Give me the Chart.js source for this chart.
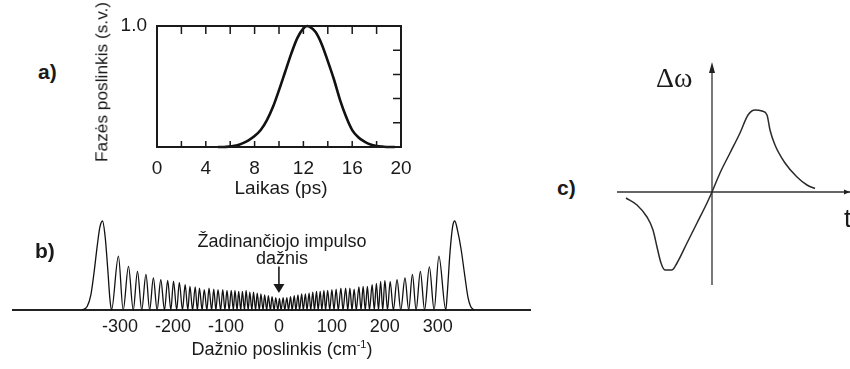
<!DOCTYPE html>
<html>
<head>
<meta charset="utf-8">
<script src="https://cdn.jsdelivr.net/npm/chart.js@4.4.1/dist/chart.umd.min.js"></script>
<style>
  html, body { margin: 0; padding: 0; background: #fff; }
  body { width: 850px; height: 369px; position: relative; overflow: hidden;
         font-family: "Liberation Sans", Arial, sans-serif; color: #1a1a1a; }
  canvas { position: absolute; }
  .lbl { position: absolute; white-space: nowrap; line-height: 1; }
  .panel { font-weight: bold; font-size: 21px; }
</style>
</head>
<body>
<canvas id="phase" width="320" height="176" style="left:110px;top:6px"></canvas>
<canvas id="spectrum" width="545" height="150" style="left:0px;top:196px"></canvas>
<canvas id="chirp" width="238" height="235" style="left:612px;top:55px"></canvas>

<div class="lbl panel" style="left:38px;top:61px">a)</div>
<div class="lbl panel" style="left:35px;top:240px">b)</div>
<div class="lbl panel" style="left:557px;top:177px">c)</div>

<div class="lbl" style="left:102px;top:82px;font-size:17.3px;transform:translate(-50%,-50%) rotate(-90deg)">Fazės poslinkis (s.v.)</div>
<div class="lbl" style="left:281px;top:178px;font-size:19px;transform:translateX(-50%)">Laikas (ps)</div>

<div class="lbl" style="left:282px;top:232px;font-size:18px;transform:translateX(-50%)">Žadinančiojo impulso</div>
<div class="lbl" style="left:282px;top:249px;font-size:18px;transform:translateX(-50%)">dažnis</div>
<div class="lbl" style="left:282px;top:339px;font-size:18px;transform:translateX(-50%)">Dažnio poslinkis (cm<sup style="font-size:11px;vertical-align:7px">-1</sup>)</div>

<div class="lbl" style="left:656px;top:64px;font-size:28px;font-family:'Liberation Serif','Times New Roman',serif">Δω</div>
<div class="lbl" style="left:844px;top:205px;font-size:26px">t</div>

<script>
// ---------- a) phase shift versus time ----------
const timePs     = [5, 5.5, 6, 6.5, 7, 7.5, 8, 8.5, 9, 9.5, 10, 10.5, 11, 11.5, 12, 12.3, 12.5, 13, 13.5, 14, 14.5, 15, 15.5, 16, 16.5, 17, 17.5, 18, 18.5, 19, 19.5];
const phaseShift = [0, 0, 0.005, 0.012, 0.03, 0.055, 0.09, 0.14, 0.22, 0.33, 0.47, 0.62, 0.77, 0.9, 0.98, 1.0, 0.995, 0.95, 0.85, 0.71, 0.56, 0.39, 0.25, 0.14, 0.08, 0.045, 0.02, 0.008, 0.003, 0, 0];
const timeTickLabels  = [0, 4, 8, 12, 16, 20];
const timeMinorTicks  = [2, 4, 6, 8, 10, 12, 14, 16, 18];
const phaseMinorTicks = [0.2, 0.4, 0.6, 0.8];
const phaseTickLabels = [1.0];

// ---------- b) spectrum: fringe maxima, minima and outer shoulders ----------
const peakShift = [-333, -303, -284, -267, -251, -237, -223, -210, -199, -188, -177, -168, -158, -150, -141, -132, -123, -115, -106, -98,
                   -90, -83, -76, -69, -62, -55, -48, -41, -34, -27, -20, -13, -6,
                   1, 8, 15, 22, 29, 36, 43, 50, 57, 64, 71, 78, 85, 92, 100, 108, 117, 126, 134, 142,
                   151, 159, 167, 176, 184, 192, 200, 210, 223, 238, 252, 267, 284, 302, 332];
const peakLevel = [1.0, 0.606, 0.49, 0.435, 0.40, 0.36, 0.34, 0.333, 0.325, 0.31, 0.285, 0.265, 0.26, 0.245, 0.23, 0.245, 0.235, 0.23, 0.23, 0.22,
                   0.22, 0.22, 0.21, 0.21, 0.22, 0.2, 0.2, 0.19, 0.18, 0.17, 0.16, 0.15, 0.14,
                   0.13, 0.14, 0.14, 0.15, 0.16, 0.17, 0.18, 0.18, 0.19, 0.2, 0.21, 0.21, 0.22, 0.22, 0.23, 0.235, 0.245, 0.245, 0.245, 0.235,
                   0.26, 0.265, 0.265, 0.285, 0.30, 0.32, 0.333, 0.32, 0.34, 0.36, 0.40, 0.435, 0.485, 0.606, 1.0];
const valleyShift = [-316, -294, -275, -259, -244, -230, -216, -204, -193, -182, -172, -163, -154, -145, -136, -127, -119, -110, -102, -94,
                     -86, -79, -72, -65, -58, -51, -44, -37, -30, -23, -16, -9, -2,
                     4, 11, 18, 25, 32, 39, 46, 53, 60, 67, 74, 81, 88, 96, 104, 112, 121, 130, 138, 146,
                     155, 163, 171, 180, 188, 196, 205, 216, 230, 245, 259, 275, 293, 315];
const flankShift = [-372, -362, -355, -349, -343, -338, -328, -323, -319,
                    318, 323, 328, 337, 344, 351, 357, 362, 368];
const flankLevel = [0, 0.04, 0.17, 0.42, 0.72, 0.93, 0.82, 0.45, 0.12,
                    0.2, 0.65, 0.94, 0.9, 0.68, 0.38, 0.14, 0.04, 0];
const shiftTickLabels = [-300, -200, -100, 0, 100, 200, 300];
const pumpMarkShift = 0;
const pumpArrowFrom = 0.49, pumpArrowTo = 0.19;

// ---------- c) instantaneous frequency shift ----------
const chirpT  = [-8.6, -7.5, -6.5, -5.9, -5.5, -5.1, -4.7, -4.0, -3.5, -2.5, -1.5, -0.5, 0, 0.8, 1.8, 2.8, 3.6, 4.3, 5.0, 5.5, 5.8, 6.3, 7.3, 8.5, 9.5, 10.3];
const chirpDw = [-0.6, -1.3, -2.5, -3.8, -5.5, -7.1, -7.8, -7.8, -7.1, -5.1, -3.1, -1.1, 0, 1.9, 3.9, 5.9, 7.7, 8.2, 8.1, 7.7, 6.2, 4.7, 2.9, 1.5, 0.7, 0.35];

const INK = '#1a1a1a';
const FONT_A = { family: "'Liberation Sans', Arial, sans-serif", size: 19 };
const FONT_B = { family: "'Liberation Sans', Arial, sans-serif", size: 18 };
const baseOpts = {
  responsive: false,
  animation: false,
  events: [],
  plugins: { legend: { display: false }, tooltip: { enabled: false } }
};
const pairs = (xs, ys) => xs.map((v, i) => ({ x: v, y: ys[i] }));

// framed box with inward tick marks
const frameTicks = {
  id: 'frameTicks',
  afterDatasetsDraw(chart) {
    const { ctx, chartArea: a, scales: { x, y } } = chart;
    ctx.save();
    ctx.strokeStyle = INK;
    ctx.lineWidth = 2;
    ctx.strokeRect(a.left, a.top, a.right - a.left, a.bottom - a.top);
    ctx.lineWidth = 1.5;
    ctx.beginPath();
    timeMinorTicks.forEach(v => {
      const px = x.getPixelForValue(v);
      ctx.moveTo(px, a.top); ctx.lineTo(px, a.top + 8);
      ctx.moveTo(px, a.bottom); ctx.lineTo(px, a.bottom - 6);
    });
    phaseMinorTicks.forEach(v => {
      const py = y.getPixelForValue(v);
      ctx.moveTo(a.right, py); ctx.lineTo(a.right - 8, py);
    });
    ctx.stroke();
    ctx.restore();
  }
};

new Chart(document.getElementById('phase'), {
  type: 'line',
  data: { datasets: [{ data: pairs(timePs, phaseShift), borderColor: '#111', borderWidth: 2.6,
                       pointRadius: 0, cubicInterpolationMode: 'monotone', fill: false, clip: false }] },
  options: {
    ...baseOpts,
    layout: { padding: { top: 20, right: 29, left: 0, bottom: 0 } },
    scales: {
      x: {
        type: 'linear', min: 0, max: 20,
        afterBuildTicks: s => { s.ticks = timeTickLabels.map(v => ({ value: v })); },
        afterFit: s => { s.height = 35; },
        grid: { display: false }, border: { display: false },
        ticks: { font: FONT_A, color: INK, padding: 2, maxRotation: 0, autoSkip: false }
      },
      y: {
        type: 'linear', min: 0, max: 1,
        afterBuildTicks: s => { s.ticks = phaseTickLabels.map(v => ({ value: v })); },
        afterFit: s => { s.width = 47; },
        grid: { display: false }, border: { display: false },
        ticks: { font: FONT_A, color: INK, padding: 2, callback: v => v.toFixed(1) }
      }
    }
  },
  plugins: [frameTicks]
});

// arrow pointing at the pump frequency
const pumpArrow = {
  id: 'pumpArrow',
  afterDatasetsDraw(chart) {
    const { ctx, scales: { x, y } } = chart;
    const px = x.getPixelForValue(pumpMarkShift);
    const y0 = y.getPixelForValue(pumpArrowFrom);
    const y1 = y.getPixelForValue(pumpArrowTo);
    ctx.save();
    ctx.strokeStyle = INK; ctx.fillStyle = INK; ctx.lineWidth = 1.6;
    ctx.beginPath(); ctx.moveTo(px, y0); ctx.lineTo(px, y1 - 8); ctx.stroke();
    ctx.beginPath(); ctx.moveTo(px - 5.5, y1 - 9); ctx.lineTo(px + 5.5, y1 - 9); ctx.lineTo(px, y1); ctx.closePath(); ctx.fill();
    ctx.restore();
  }
};

const spectrumPoints = [
  ...pairs(peakShift, peakLevel),
  ...valleyShift.map(v => ({ x: v, y: 0 })),
  ...pairs(flankShift, flankLevel)
].sort((p, q) => p.x - q.x);

new Chart(document.getElementById('spectrum'), {
  type: 'line',
  data: { datasets: [{ data: spectrumPoints, borderColor: '#111', borderWidth: 1.3,
                       pointRadius: 0, cubicInterpolationMode: 'monotone', fill: false, clip: false }] },
  options: {
    ...baseOpts,
    layout: { padding: { top: 25, right: 15, left: 13, bottom: 0 } },
    scales: {
      x: {
        type: 'linear', min: -502, max: 474,
        afterBuildTicks: s => { s.ticks = shiftTickLabels.map(v => ({ value: v })); },
        afterFit: s => { s.height = 36; },
        grid: { display: false, drawTicks: false },
        border: { display: true, color: '#222', width: 2 },
        ticks: { font: FONT_B, color: INK, padding: 6, maxRotation: 0, autoSkip: false }
      },
      y: { type: 'linear', min: 0, max: 1, display: false }
    }
  },
  plugins: [pumpArrow]
});

// crossing axes through the origin, arrow on the vertical one
const originAxes = {
  id: 'originAxes',
  beforeDatasetsDraw(chart) {
    const { ctx, chartArea: a, scales: { x, y } } = chart;
    const ox = x.getPixelForValue(0), oy = y.getPixelForValue(0);
    ctx.save();
    ctx.strokeStyle = '#333'; ctx.fillStyle = '#222'; ctx.lineWidth = 1.3;
    ctx.beginPath();
    ctx.moveTo(a.left, oy); ctx.lineTo(a.right, oy);
    ctx.moveTo(ox, a.top + 4); ctx.lineTo(ox, a.bottom);
    ctx.stroke();
    ctx.beginPath(); ctx.moveTo(ox, a.top - 3); ctx.lineTo(ox - 3, a.top + 8); ctx.lineTo(ox + 3, a.top + 8); ctx.closePath(); ctx.fill();
    ctx.beginPath(); ctx.moveTo(a.right, oy); ctx.lineTo(a.right - 6, oy - 2.5); ctx.lineTo(a.right - 6, oy + 2.5); ctx.closePath(); ctx.fill();
    ctx.restore();
  }
};

new Chart(document.getElementById('chirp'), {
  type: 'line',
  data: { datasets: [{ data: pairs(chirpT, chirpDw), borderColor: '#2a2a2a', borderWidth: 1.5,
                       pointRadius: 0, cubicInterpolationMode: 'monotone', fill: false }] },
  options: {
    ...baseOpts,
    layout: { padding: { top: 10, right: 0, left: 5, bottom: 5 } },
    scales: {
      x: { type: 'linear', min: -9.5, max: 13.8, display: false },
      y: { type: 'linear', min: -9.3, max: 12.7, display: false }
    }
  },
  plugins: [originAxes]
});
</script>
</body>
</html>
